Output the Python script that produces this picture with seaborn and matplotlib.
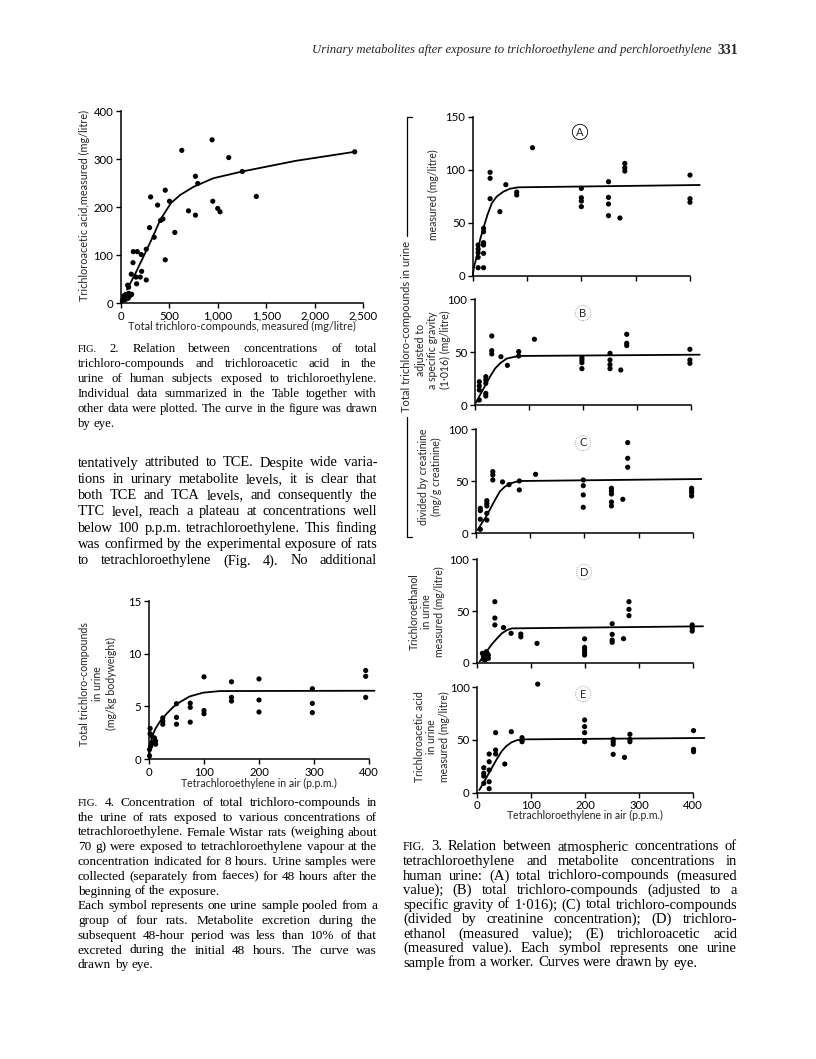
import numpy as np
import pandas as pd
import seaborn as sns
import matplotlib.pyplot as plt
from matplotlib.lines import Line2D

# ---------------- data (read from the page) ----------------
# Fig. 2
fig2_x = [2414, 941, 628, 1113, 769, 793, 1253, 1398, 306, 457, 378, 501, 948, 697, 769, 999, 1023,
          409, 433, 295, 556, 343, 261, 127, 168, 209, 124, 457, 106, 213, 199, 155, 161, 261, 69, 79,
          15, 25, 35, 45, 55, 65, 75, 90, 100, 110, 30, 50, 80]
fig2_y = [315, 340, 318, 303, 264, 249, 274, 222, 221, 235, 204, 212, 212, 192, 183, 197, 190,
          172, 175, 157, 147, 137, 112, 107, 107, 101, 84, 90, 60, 66, 54, 54, 40, 48, 37, 33,
          5, 8, 10, 7, 12, 14, 10, 15, 17, 18, 15, 18, 20]
fig2_curve_x = [62, 150, 233, 320, 405, 515, 611, 749, 955, 1126, 1253, 1800, 2414]
fig2_curve_y = [28, 62, 97, 134, 173, 208, 225, 242, 260, 268, 274, 296, 315]

# Fig. 4
fig4_x = [1, 1, 2, 2, 3, 5, 5, 8, 10, 12, 12,
          25, 25, 25, 50, 50, 50, 75, 75, 75, 100, 100, 100,
          150, 150, 150, 200, 200, 200, 297, 297, 297, 394, 394, 394]
fig4_y = [0.3, 0.9, 2.9, 2.4, 1.2, 2.2, 1.5, 1.6, 2.0, 1.7, 1.4,
          3.9, 3.6, 3.3, 5.25, 3.95, 3.3, 5.3, 4.9, 3.5, 7.8, 4.6, 4.3,
          7.33, 5.85, 5.5, 7.6, 5.6, 4.46, 6.67, 5.28, 4.4, 8.4, 7.85, 5.85]
fig4_curve_x = [0, 1, 2.5, 4.8, 10.9, 20, 32, 44, 56, 74, 98.6, 129, 410]
fig4_curve_y = [0, 0.6, 1.3, 2.0, 2.8, 3.57, 4.3, 4.93, 5.4, 5.94, 6.3, 6.45, 6.48]

# Fig. 3 (A)-(E)
a_x = [10, 10, 10, 10, 10, 20, 20, 20, 20, 20, 20, 32, 32, 32, 50, 61, 81, 81, 110,
       200, 200, 200, 200, 250, 250, 250, 250, 271, 280, 280, 280, 400, 400, 400]
a_y = [29.2, 25.4, 22, 17.6, 7.8, 44.9, 41.7, 31.4, 29.2, 21.3, 7.8, 97.6, 92, 72.8, 60.6, 86, 79, 76.3, 120.8,
       82.5, 73.7, 70.6, 65.3, 88.8, 74, 67.8, 56.8, 54.6, 106, 102, 98.8, 95, 72.8, 69.4]
a_curve_x = [0, 2.5, 7.4, 13.5, 19.6, 27, 35, 44, 56.4, 68.7, 84, 418]
a_curve_y = [0, 8.8, 18.2, 34, 45, 57.4, 68.4, 74.7, 79.4, 82.2, 83.5, 85.7]

b_x = [8, 8, 8, 8, 20, 20, 20, 20, 20, 31, 31, 31, 48, 60, 81, 81, 110,
       198, 198, 198, 198, 250, 250, 250, 250, 270, 281, 281, 281, 398, 398, 398]
b_y = [22, 18, 14.2, 4.7, 26.8, 23.7, 20.5, 11, 8.5, 65.3, 51.4, 48.3, 45.7, 37.5, 50.5, 46.4, 62.2,
       44.8, 42.6, 40, 34.4, 48.9, 42.6, 38.2, 34.4, 33.1, 66.9, 58.4, 56.2, 52.7, 42.6, 39.4]
b_curve_x = [1.9, 9.3, 18.5, 27.8, 37, 46.3, 58.6, 74, 83, 416]
b_curve_y = [2.2, 9.5, 18, 26.8, 34.4, 39.4, 43.9, 45.7, 46.4, 47.6]

c_x = [8, 8, 8, 8, 20, 20, 20, 20, 20, 31, 31, 31, 49, 61, 80, 80, 110,
       198, 198, 198, 198, 250, 250, 250, 250, 250, 271, 280, 280, 280, 398, 398, 398, 398]
c_y = [24, 21.8, 13.5, 3.8, 31.4, 28.8, 26.3, 19.2, 12.8, 59.3, 56.1, 51.3, 49.4, 46.8, 50.3, 41.7, 56.7,
       51.3, 45.8, 36.9, 25, 43.3, 40.7, 37.8, 30.1, 26.3, 32.7, 87.2, 72.1, 63.5, 43.3, 41, 39.1, 35.9]
c_curve_x = [3, 10.5, 18.5, 25.8, 35, 44.3, 53.5, 62.7, 75, 84, 416]
c_curve_y = [3.2, 9.6, 16, 23, 32, 40.4, 44.9, 47.8, 49.7, 50.3, 52.2]

d_x = [10, 12, 12, 17, 19, 21, 21, 15, 33, 33, 33, 49, 63, 81, 81, 111,
       199, 199, 199, 199, 199, 250, 250, 250, 250, 271, 281, 281, 281, 398, 398, 398]
d_y = [9, 6.5, 3.2, 10.6, 9, 7.4, 4.2, 2.6, 59, 43.2, 36.5, 34, 28.4, 27.7, 25, 18.7,
       23, 14.8, 12.3, 9.7, 7.4, 37.7, 27.4, 21.9, 19.7, 23.2, 59, 51.6, 45.5, 36.5, 33.2, 30.6]
d_curve_x = [4.9, 12.3, 19.7, 27.7, 37, 46, 55.4, 64.6, 418]
d_curve_y = [1, 6.5, 12.3, 18, 23.5, 28.4, 31.6, 33.2, 35.2]

e_x = [12, 12, 12, 12, 22, 22, 22, 22, 22, 34, 34, 34, 51, 63, 83, 83, 83, 112,
       199, 199, 199, 199, 252, 252, 252, 252, 273, 283, 283, 283, 401, 401, 401]
e_y = [23.7, 18.4, 15.8, 8.9, 36.7, 29.4, 21.5, 10.4, 3.8, 57, 40.5, 36.7, 27.2, 57.9, 52.2, 50, 48.4, 103,
       69, 62.7, 57, 48.4, 50.6, 48.4, 45.9, 36.4, 33.5, 55.4, 50.6, 48.4, 58.9, 41.1, 38.9]
e_curve_x = [3.7, 11, 18.5, 26.5, 35.8, 45, 54, 63.5, 72.8, 85, 421]
e_curve_y = [2.5, 8.9, 15.8, 23.1, 31.6, 39.2, 44.3, 47.8, 49.7, 50.6, 51.9]

fig3_xticks = [0, 100, 200, 300, 400]
fig2_xticks = [0, 500, 1000, 1500, 2000, 2500]
fig2_xticklabels = ["0", "500", "1,000", "1,500", "2,000", "2,500"]

# ---------------- layout ----------------
W, H = 816, 1059
SANS = ["Lato", "DejaVu Sans"]
SERIF = ["Liberation Serif", "DejaVu Serif"]

sns.set_theme(style="ticks")
plt.rcParams["font.family"] = SANS
plt.rcParams["axes.linewidth"] = 1.1

fig = plt.figure(figsize=(W / 100, H / 100), dpi=100)
fig.patch.set_facecolor("white")
renderer = fig.canvas.get_renderer()


def fx(x):
    return x / W


def fy(y):
    return 1 - y / H


def box(x0, x1, ytop, ybot):
    return [x0 / W, 1 - ybot / H, (x1 - x0) / W, (ybot - ytop) / H]


def style(ax, xt, yt, xlabels=True, xtl=None):
    for s in ["top", "right"]:
        ax.spines[s].set_visible(False)
    for s in ["left", "bottom"]:
        ax.spines[s].set_color("black")
        ax.spines[s].set_linewidth(1.1)
    ax.set_facecolor("none")
    ax.set_xticks(xt)
    ax.set_yticks(yt)
    if xtl is not None:
        ax.set_xticklabels(xtl)
    if not xlabels:
        ax.set_xticklabels([])
    ax.tick_params(direction="out", length=3.5, width=1.0, labelsize=8.2, pad=2,
                   colors="black")
    ax.set_xlabel("")
    ax.set_ylabel("")


def draw(ax, x, y, cx, cy, xlim, ylim):
    sns.lineplot(x=cx, y=cy, ax=ax, color="black", lw=1.3, sort=False, estimator=None)
    sns.scatterplot(x=x, y=y, ax=ax, color="black", s=14, edgecolor="none", linewidth=0)
    for art in ax.lines + ax.collections:
        art.set_clip_on(False)
    ax.set_xlim(*xlim)
    ax.set_ylim(*ylim)


# Fig. 2
ax2 = fig.add_axes(box(121, 363, 111, 303))
draw(ax2, fig2_x, fig2_y, fig2_curve_x, fig2_curve_y, (0, 2500), (0, 400))
style(ax2, fig2_xticks, [0, 100, 200, 300, 400], xtl=fig2_xticklabels)
fig.text(fx(242), fy(326), "Total trichloro-compounds, measured (mg/litre)", ha="center",
         va="center", fontsize=7.8)
fig.text(fx(84), fy(205), "Trichloroacetic acid,measured (mg/litre)", ha="center", va="center",
         rotation=90, fontsize=7.8)

# Fig. 4
ax4 = fig.add_axes(box(149, 369, 601, 759))
draw(ax4, fig4_x, fig4_y, fig4_curve_x, fig4_curve_y, (0, 400), (0, 15))
style(ax4, [0, 100, 200, 300, 400], [0, 5, 10, 15])
fig.text(fx(259), fy(783), "Tetrachloroethylene in air (p.p.m.)", ha="center", va="center",
         fontsize=7.6)
fig.text(fx(98), fy(684), "Total trichloro-compounds\nin urine\n(mg/kg bodyweight)", ha="center",
         va="center", rotation=90, fontsize=7.6, linespacing=1.25, multialignment="center")

# Fig. 3 panels
panels = [
    (a_x, a_y, a_curve_x, a_curve_y, (472.7, 690, 116.7, 276), 150, [0, 50, 100, 150], "A",
     (580, 132), "measured (mg/litre)", (433, 195)),
    (b_x, b_y, b_curve_x, b_curve_y, (475, 691, 299.3, 405), 100, [0, 50, 100], "B",
     (583, 313), "adjusted to\na specific gravity\n(1·016) (mg/litre)", (433, 350)),
    (c_x, c_y, c_curve_x, c_curve_y, (476, 692.7, 429.3, 533.3), 100, [0, 50, 100], "C",
     (583, 443), "divided by creatinine\n(mg/g creatinine)", (430, 477)),
    (d_x, d_y, d_curve_x, d_curve_y, (477, 693.3, 559.3, 662.7), 100, [0, 50, 100], "D",
     (584, 572), "Trichloroethanol\nin urine\nmeasured (mg/litre)", (427, 612)),
    (e_x, e_y, e_curve_x, e_curve_y, (477.3, 693, 687.3, 792.7), 100, [0, 50, 100], "E",
     (583, 694), "Trichloroacetic acid\nin urine\nmeasured (mg/litre)", (432, 737)),
]
for i, (px_, py_, cx, cy, bx, ymax, yt, lab, lpos, ylab, ypos) in enumerate(panels):
    ax = fig.add_axes(box(*bx))
    draw(ax, px_, py_, cx, cy, (0, 400), (0, ymax))
    style(ax, fig3_xticks, yt, xlabels=(i == 4))
    fig.text(fx(lpos[0]), fy(lpos[1]), lab, ha="center", va="center", fontsize=8,
             bbox=dict(boxstyle="circle,pad=0.2", fc="none",
                       ec="black" if i == 0 else "0.55", lw=0.6,
                       ls="-" if i == 0 else (0, (1, 1.5))))
    fig.text(fx(ypos[0]), fy(ypos[1]), ylab, ha="center", va="center", rotation=90,
             fontsize=7.6, linespacing=1.2, multialignment="center")

fig.text(fx(585), fy(815), "Tetrachloroethylene in air (p.p.m.)", ha="center", va="center",
         fontsize=7.6)

# bracket for the "Total trichloro-compounds in urine" group label
for seg in [((407, 117), (407, 236)), ((407, 117), (412, 117)),
            ((407, 417), (407, 537)), ((407, 537), (412, 537))]:
    fig.add_artist(Line2D([fx(seg[0][0]), fx(seg[1][0])], [fy(seg[0][1]), fy(seg[1][1])],
                          color="black", lw=0.9, transform=fig.transFigure))
fig.text(fx(407), fy(326), "Total trichloro-compounds in urine", ha="center", va="center",
         rotation=90, fontsize=8, bbox=dict(fc="white", ec="none", pad=1))


# ---------------- page text ----------------
def width_of(s, size, **kw):
    t = fig.text(0, 0, s, fontsize=size, family=SERIF, **kw)
    w = t.get_window_extent(renderer).width
    t.remove()
    return w


def fit_size(lines, width, skip=()):
    base = 10.0
    mw = max(width_of(ln, base) for i, ln in enumerate(lines) if i not in skip)
    return base * width / mw * 0.995


def paragraph(lines, x0, x1, y0, dy, left_lines=()):
    size = fit_size(lines, x1 - x0, skip=left_lines)
    for i, ln in enumerate(lines):
        y = y0 + i * dy
        words = ln.split()
        ts, ws = [], []
        for w in words:
            fs = size * 0.82 if w == "FIG." else size
            t = fig.text(0, fy(y), w, fontsize=fs, family=SERIF, ha="left", va="center",
                         color="black")
            ws.append(t.get_window_extent(renderer).width)
            ts.append(t)
        if i in left_lines or len(words) == 1:
            gap = size * 1.389 * 0.25
        else:
            gap = (x1 - x0 - sum(ws)) / (len(words) - 1)
        x = x0
        for t, wd in zip(ts, ws):
            t.set_x(fx(x))
            x += wd + gap


title = "Urinary metabolites after exposure to trichloroethylene and perchloroethylene"
fig.text(fx(712), fy(50), title, ha="right", va="center", fontsize=9.2, family=SERIF,
         style="italic")
fig.text(fx(738), fy(50), "331", ha="right", va="center", fontsize=10, family=SERIF,
         weight="bold")

cap2 = ["FIG. 2. Relation between concentrations of total",
        "trichloro-compounds and trichloroacetic acid in the",
        "urine of human subjects exposed to trichloroethylene.",
        "Individual data summarized in the Table together with",
        "other data were plotted. The curve in the figure was drawn",
        "by eye."]
paragraph(cap2, 78, 377, 349, 15, left_lines=(5,))

body = ["tentatively attributed to TCE. Despite wide varia-",
        "tions in urinary metabolite levels, it is clear that",
        "both TCE and TCA levels, and consequently the",
        "TTC level, reach a plateau at concentrations well",
        "below 100 p.p.m. tetrachloroethylene. This finding",
        "was confirmed by the experimental exposure of rats",
        "to tetrachloroethylene (Fig. 4). No additional"]
paragraph(body, 78, 377, 463, 16.3)

cap4 = ["FIG. 4. Concentration of total trichloro-compounds in",
        "the urine of rats exposed to various concentrations of",
        "tetrachloroethylene. Female Wistar rats (weighing about",
        "70 g) were exposed to tetrachloroethylene vapour at the",
        "concentration indicated for 8 hours. Urine samples were",
        "collected (separately from faeces) for 48 hours after the",
        "beginning of the exposure.",
        "Each symbol represents one urine sample pooled from a",
        "group of four rats. Metabolite excretion during the",
        "subsequent 48-hour period was less than 10% of that",
        "excreted during the initial 48 hours. The curve was",
        "drawn by eye."]
paragraph(cap4, 78, 377, 803, 14.75, left_lines=(6, 11))

cap3 = ["FIG. 3. Relation between atmospheric concentrations of",
        "tetrachloroethylene and metabolite concentrations in",
        "human urine: (A) total trichloro-compounds (measured",
        "value); (B) total trichloro-compounds (adjusted to a",
        "specific gravity of 1·016); (C) total trichloro-compounds",
        "(divided by creatinine concentration); (D) trichloro-",
        "ethanol (measured value); (E) trichloroacetic acid",
        "(measured value). Each symbol represents one urine",
        "sample from a worker. Curves were drawn by eye."]
paragraph(cap3, 403, 737, 847, 14.5, left_lines=(8,))

fig.savefig("out.png", dpi=100, facecolor="white")
